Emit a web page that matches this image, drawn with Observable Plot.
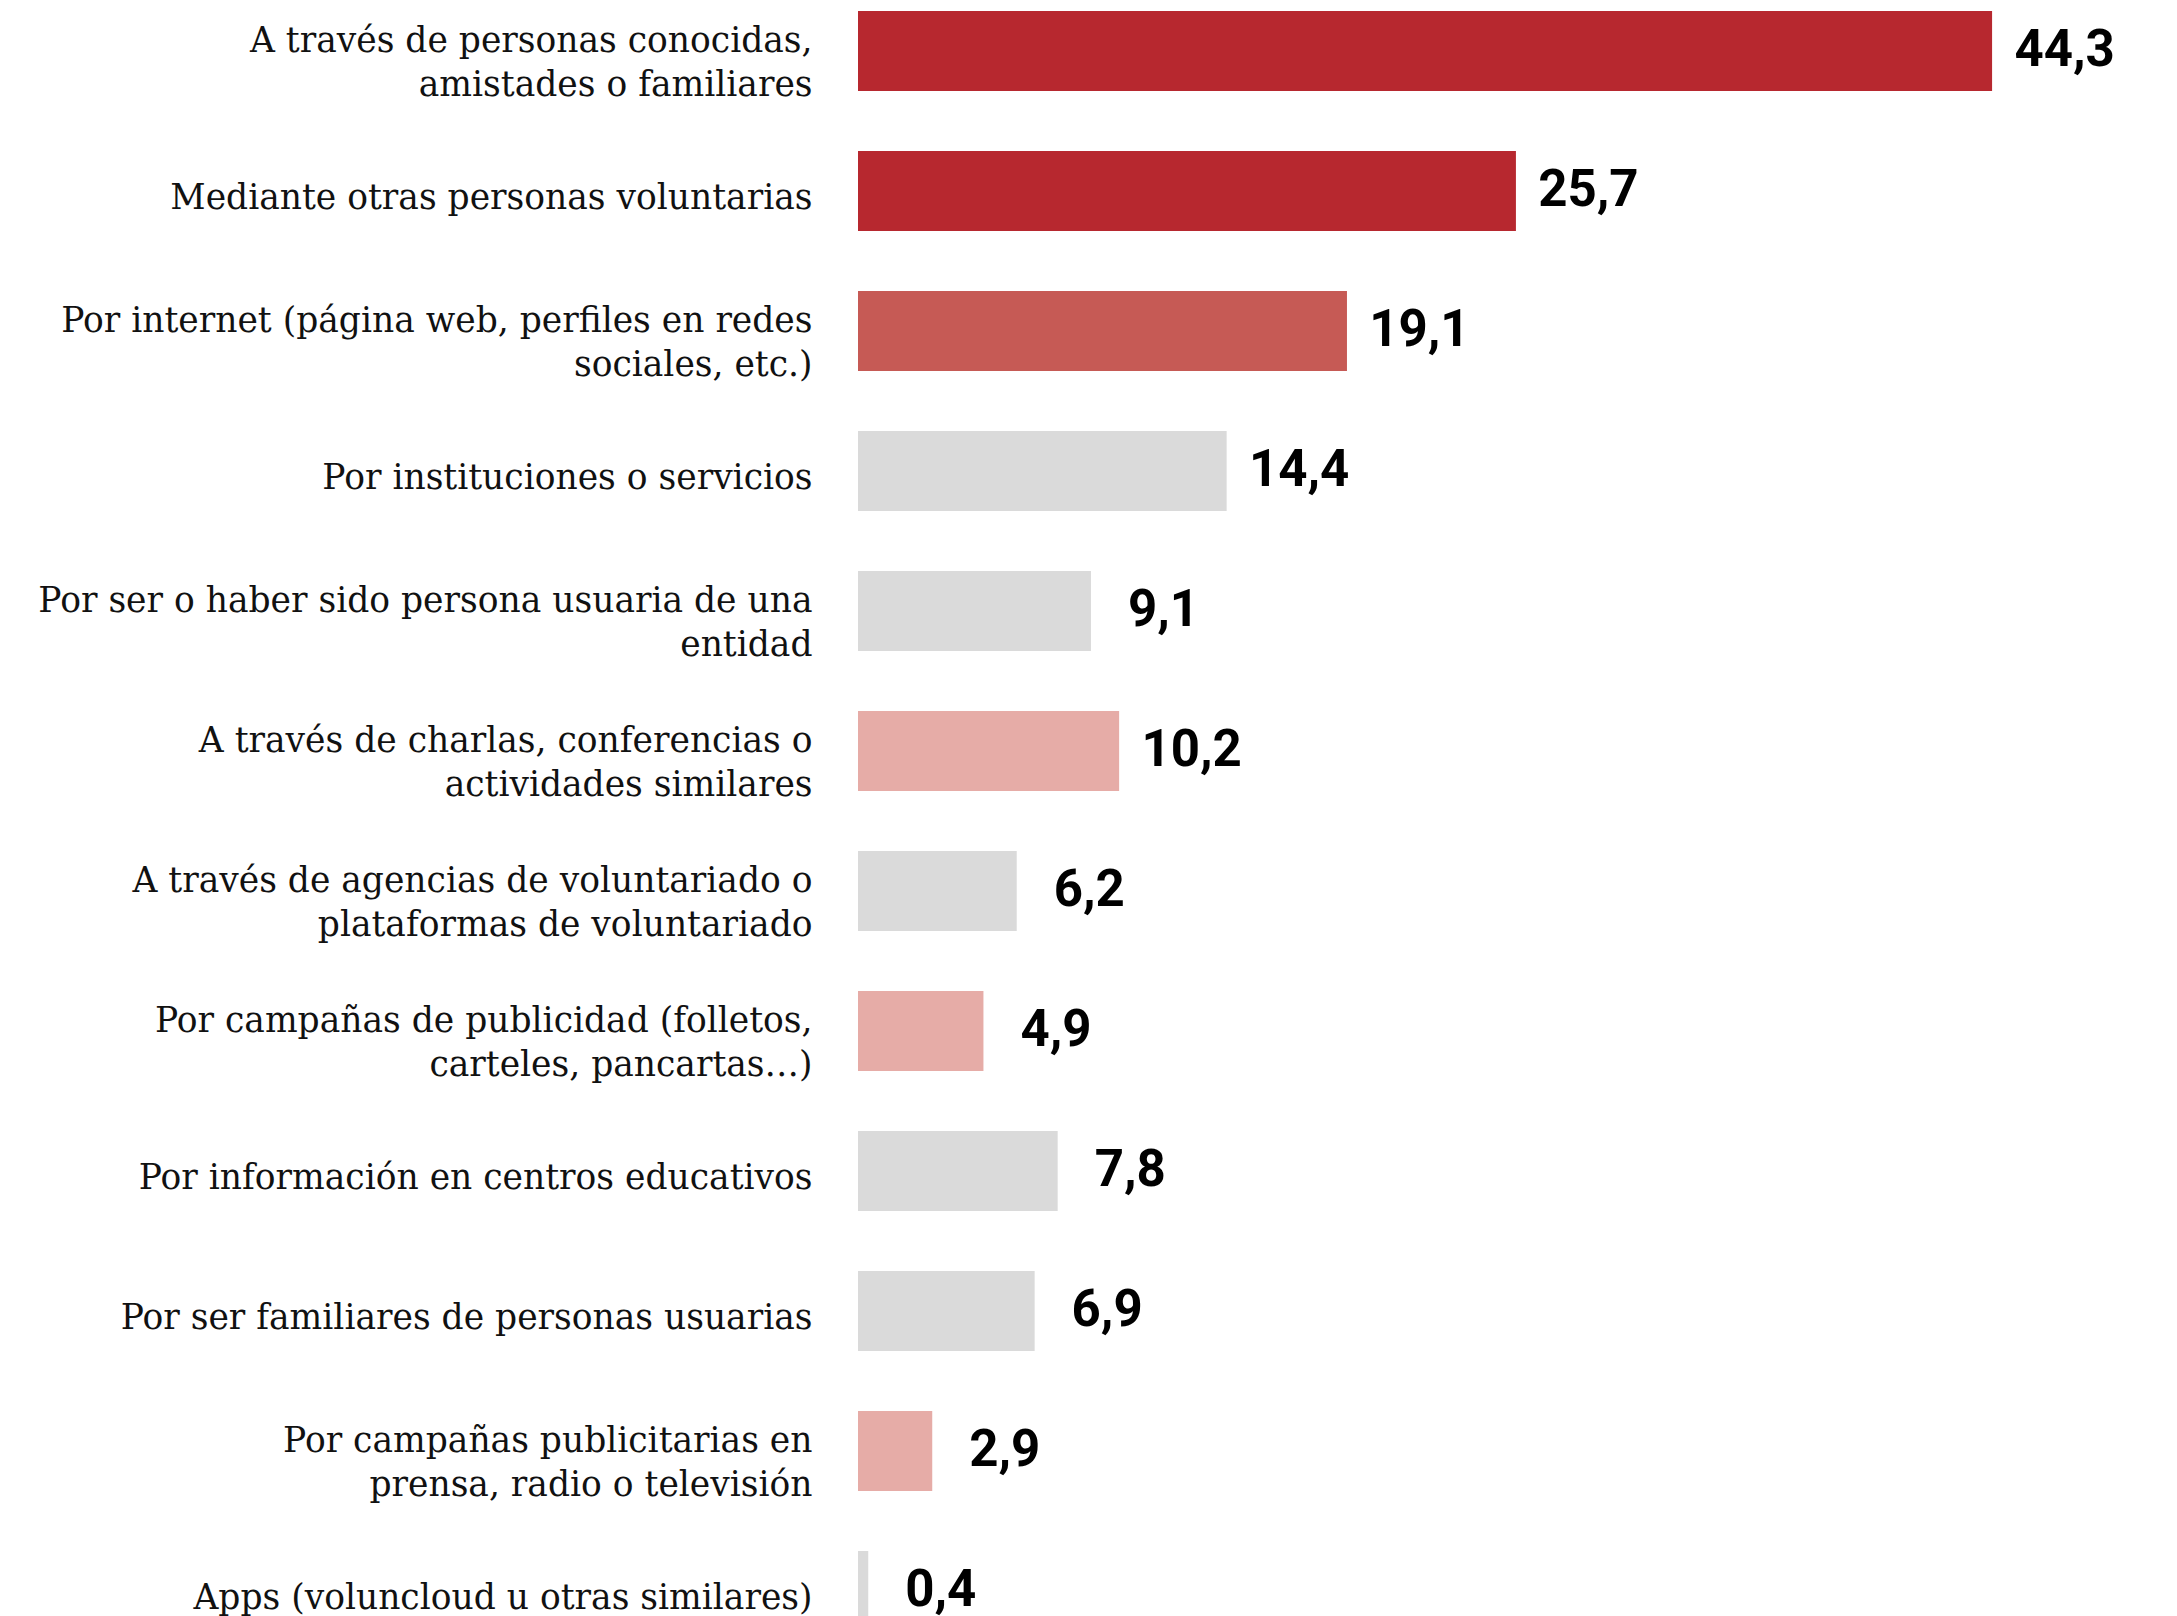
<!DOCTYPE html>
<html>
<head>
<meta charset="utf-8">
<script src="https://cdn.jsdelivr.net/npm/d3@7"></script>
<script src="https://cdn.jsdelivr.net/npm/@observablehq/plot@0.6"></script>
<style>
  html, body { margin: 0; padding: 0; background: #fff; overflow: hidden; }
  #chart svg { display: block; overflow: hidden; }
</style>
</head>
<body>
<div id="chart"></div>
<script>
const categories = [
  "A través de personas conocidas,\namistades o familiares",
  "Mediante otras personas voluntarias",
  "Por internet (página web, perfiles en redes\nsociales, etc.)",
  "Por instituciones o servicios",
  "Por ser o haber sido persona usuaria de una\nentidad",
  "A través de charlas, conferencias o\nactividades similares",
  "A través de agencias de voluntariado o\nplataformas de voluntariado",
  "Por campañas de publicidad (folletos,\ncarteles, pancartas…)",
  "Por información en centros educativos",
  "Por ser familiares de personas usuarias",
  "Por campañas publicitarias en\nprensa, radio o televisión",
  "Apps (voluncloud u otras similares)"
];
const values = [44.3, 25.7, 19.1, 14.4, 9.1, 10.2, 6.2, 4.9, 7.8, 6.9, 2.9, 0.4];
const groups = ["alto", "alto", "medio", "otro", "otro", "bajo", "otro", "bajo", "otro", "otro", "bajo", "otro"];

const groupDomain = ["alto", "medio", "bajo", "otro"];
const groupColors = ["#b7282f", "#c65a55", "#e6aca7", "#dadada"];

const data = categories.map((c, i) => ({category: c, value: values[i], group: groups[i]}));
const fmt = v => v.toFixed(1).replace(".", ",");
const labelStyle = {
  x: d => 0, y: "category", text: "category",
  textAnchor: "end", dx: -46, lineAnchor: "middle", lineHeight: 1.29,
  fontSize: 34.5, fontFamily: "'DejaVu Serif', serif", fill: "#111"
};

const chart = Plot.plot({
  width: 2177,
  height: 1616,
  style: {background: "#fff"},
  x: {domain: [0, 50], range: [858, 2138], axis: null},
  y: {domain: categories, range: [-19, 1661], paddingInner: 60 / 140, paddingOuter: 30 / 140, axis: null},
  color: {domain: groupDomain, range: groupColors},
  marks: [
    Plot.barX(data, {x: "value", y: "category", fill: "group"}),
    Plot.text(data.filter(d => !d.category.includes("\n")), {...labelStyle, dy: 3}),
    Plot.text(data.filter(d => d.category.includes("\n")), {...labelStyle, dy: 8}),
    Plot.text(data, {
      x: "value", y: "category", text: d => fmt(d.value),
      textAnchor: "middle", dx: 72, dy: -2,
      fontSize: 51, fontWeight: 700, fontFamily: "Roboto, sans-serif", fill: "#000"
    })
  ]
});
document.getElementById("chart").append(chart);
</script>
</body>
</html>
